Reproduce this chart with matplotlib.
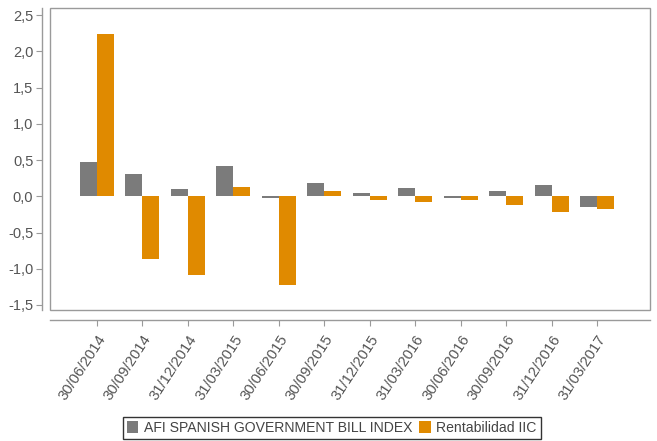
import matplotlib
matplotlib.use('Agg')
import matplotlib.pyplot as plt
from matplotlib.patches import Rectangle
import numpy as np

fechas = ['30/06/2014', '30/09/2014', '31/12/2014', '31/03/2015', '30/06/2015', '30/09/2015',
          '31/12/2015', '31/03/2016', '30/06/2016', '30/09/2016', '31/12/2016', '31/03/2017']
indice = [0.48, 0.31, 0.10, 0.42, -0.02, 0.19, 0.045, 0.11, -0.02, 0.08, 0.15, -0.15]
rentabilidad = [2.24, -0.86, -1.08, 0.13, -1.23, 0.08, -0.05, -0.08, -0.05, -0.12, -0.21, -0.17]
yticks = [2.5, 2.0, 1.5, 1.0, 0.5, 0.0, -0.5, -1.0, -1.5]

gris = '#7b7b7b'
naranja = '#e08a00'
marco = '#9a9a9a'
texto = '#555555'

plt.rcParams['font.family'] = ['Liberation Sans', 'DejaVu Sans']

fig = plt.figure(figsize=(6.57, 4.41), dpi=100)
ax = fig.add_axes([50/657, 131/441, 600/657, 302/441])

x = np.arange(len(fechas))
w = 0.375
ax.bar(x - w/2, indice, w, color=gris, label='AFI SPANISH GOVERNMENT BILL INDEX')
ax.bar(x + w/2, rentabilidad, w, color=naranja, label='Rentabilidad IIC')

ax.set_xlim(-1.03, 12.16)
ax.set_ylim(-1.57, 2.6)

# marco del area de trazado
ax.add_patch(Rectangle((0, 0), 1, 1, transform=ax.transAxes, fill=False,
                       edgecolor=marco, linewidth=1.0, clip_on=False, zorder=5))
ax.spines['top'].set_visible(False)
ax.spines['right'].set_visible(False)
ax.spines['left'].set_position(('outward', 6))
ax.spines['bottom'].set_position(('outward', 7))
for s in ['left', 'bottom']:
    ax.spines[s].set_color(marco)
    ax.spines[s].set_linewidth(1.0)

ax.set_yticks(yticks)
ax.set_yticklabels([('%.1f' % v).replace('.', ',') for v in yticks], fontsize=10.5, color=texto)
ax.set_xticks(x)
ax.set_xticklabels(fechas, rotation=57, ha='right', rotation_mode='anchor', fontsize=10.7, color=texto)
ax.tick_params(axis='both', colors=marco, length=4, labelcolor=texto)
ax.tick_params(axis='y', pad=2)
ax.tick_params(axis='x', pad=5)

leg = fig.legend(loc='center', bbox_to_anchor=(0.505, 0.03), ncol=2, fontsize=10.1,
                 frameon=True, fancybox=False, handlelength=0.8, handleheight=0.9,
                 handletextpad=0.4, columnspacing=0.5, borderpad=0.3)
leg.get_frame().set_edgecolor('black')
leg.get_frame().set_linewidth(1.0)
for t in leg.get_texts():
    t.set_color('#444444')

fig.savefig('out.png', dpi=100)
